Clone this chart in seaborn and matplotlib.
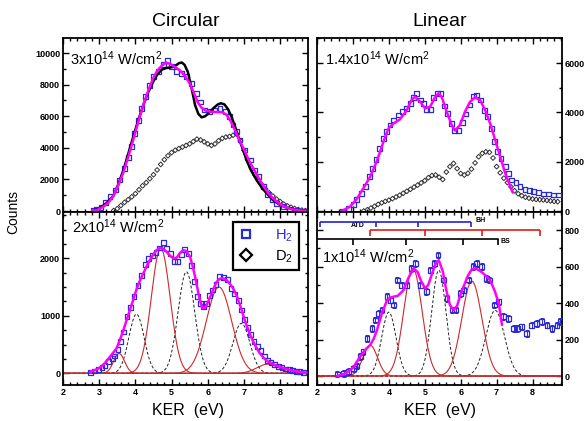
import numpy as np
import pandas as pd
import matplotlib
matplotlib.use("Agg")
import matplotlib.pyplot as plt
from matplotlib.lines import Line2D
from matplotlib.ticker import MultipleLocator
import seaborn as sns

# ---------------- data ----------------
# Circular, 3x10^14 W/cm^2
c3_h2_x = [2.84, 2.93, 3.05, 3.18, 3.30, 3.44, 3.57, 3.71, 3.80, 3.90, 3.98, 4.08, 4.18, 4.29, 4.40,
           4.51, 4.63, 4.77, 4.88, 5.00, 5.14, 5.28, 5.42, 5.56, 5.69, 5.80, 5.92, 6.06, 6.20, 6.34,
           6.48, 6.61, 6.70, 6.80, 6.89, 7.03, 7.17, 7.30, 7.40, 7.53, 7.65, 7.78, 7.90, 8.09, 8.27,
           8.46, 8.65]
c3_h2_y = [20, 100, 250, 550, 900, 1330, 1960, 2700, 3400, 4100, 4900, 5750, 6500, 7230, 7950,
           8500, 8850, 9250, 9550, 9150, 8850, 8700, 8500, 8080, 7450, 6900, 6400, 6280, 6400, 6500,
           6300, 5970, 5440, 5020, 4490, 3860, 3230, 2600, 2170, 1540, 1050, 700, 490, 270, 105,
           20, 0]
c3_fit_x = [2.80, 2.93, 3.10, 3.25, 3.39, 3.53, 3.67, 3.80, 3.94, 4.08, 4.22, 4.36, 4.49, 4.61, 4.73,
            4.85, 4.97, 5.10, 5.23, 5.37, 5.51, 5.62, 5.72, 5.82, 5.95, 6.10, 6.25, 6.40, 6.52, 6.63,
            6.75, 6.87, 7.00, 7.14, 7.28, 7.42, 7.56, 7.70, 7.85, 8.00, 8.15, 8.30, 8.50, 8.70]
c3_fit_y = [0, 60, 250, 520, 950, 1650, 2450, 3400, 4500, 5650, 6700, 7650, 8400, 8900, 9200,
            9400, 9300, 9100, 8900, 8550, 8050, 7450, 6900, 6550, 6350, 6280, 6270, 6250, 6100, 5700,
            5150, 4500, 3900, 3200, 2600, 2050, 1500, 1050, 700, 420, 250, 130, 50, 10]
c3_calc_x = [2.84, 3.00, 3.20, 3.39, 3.53, 3.67, 3.80, 3.94, 4.08, 4.22, 4.36, 4.49, 4.61, 4.73, 4.85,
             4.96, 5.08, 5.20, 5.28, 5.36, 5.45, 5.56, 5.65, 5.74, 5.83, 5.93, 6.05, 6.15, 6.28, 6.36,
             6.46, 6.56, 6.66, 6.76, 6.86, 6.97, 7.07, 7.20, 7.35, 7.50, 7.63, 7.80, 8.00, 8.20, 8.46,
             8.70]
c3_calc_y = [20, 150, 500, 950, 1700, 2600, 3600, 4700, 5750, 6710, 7550, 8180, 8650, 8950, 9050,
             9080, 9150, 9350, 9400, 9250, 8800, 7700, 6700, 6150, 5930, 6000, 6250, 6500, 6750, 6820,
             6750, 6450, 5950, 5300, 4600, 3900, 3230, 2550, 1960, 1450, 1120, 700, 380, 200, 60,
             10]
c3_d2_start, c3_d2_step = 3.4, 0.1
c3_d2_y = [30, 150, 350, 550, 720, 900, 1100, 1350, 1600, 1800,
           2050, 2300, 2600, 2950, 3250, 3500, 3700, 3850, 3950, 4050,
           4150, 4250, 4400, 4550, 4500, 4380, 4250, 4150, 4250, 4450,
           4600, 4680, 4720, 4800, 4850, 4450, 3850, 3250, 2750, 2300,
           1960, 1650, 1380, 1150, 950, 760, 600, 440, 330, 240,
           160, 100, 60, 30]

# Linear, 1.4x10^14 W/cm^2
l14_h2_x = [2.71, 2.87, 3.01, 3.10, 3.24, 3.34, 3.46, 3.55, 3.64, 3.75, 3.85, 3.94, 4.03, 4.14, 4.27,
            4.39, 4.50, 4.61, 4.68, 4.76, 4.87, 4.96, 5.04, 5.15, 5.24, 5.36, 5.44, 5.54, 5.63, 5.75,
            5.83, 5.94, 6.06, 6.15, 6.26, 6.35, 6.45, 6.56, 6.66, 6.74, 6.85, 6.93, 7.02, 7.12, 7.24,
            7.33, 7.42, 7.54, 7.65, 7.79, 7.91, 8.03, 8.17, 8.30, 8.44, 8.58, 8.72]
l14_h2_y = [0, 110, 280, 470, 715, 1010, 1390, 1730, 2090, 2540, 2950, 3215, 3485, 3690, 3890,
            4050, 4160, 4360, 4610, 4770, 4500, 4360, 4120, 4120, 4610, 4770, 4770, 4260, 3960, 3550,
            3260, 3260, 3580, 3930, 4300, 4660, 4700, 4500, 4090, 3820, 3350, 2810, 2400, 2130, 1800,
            1530, 1260, 1150, 990, 880, 820, 780, 740, 690, 690, 650, 650]
l14_fit_x = [2.69, 2.92, 3.10, 3.29, 3.48, 3.66, 3.85, 3.99, 4.13, 4.31, 4.50, 4.64, 4.73, 4.87, 5.01,
             5.15, 5.29, 5.38, 5.47, 5.61, 5.75, 5.84, 5.98, 6.12, 6.26, 6.40, 6.54, 6.68, 6.82, 6.96,
             7.10, 7.24, 7.38, 7.45]
l14_fit_y = [0, 175, 470, 920, 1390, 2000, 2810, 3350, 3550, 3715, 4090, 4525, 4630, 4430, 4160,
             4230, 4630, 4770, 4630, 4030, 3485, 3260, 3485, 4030, 4430, 4610, 4500, 4090, 3550, 2880,
             2200, 1530, 990, 745]
l14_d2_start, l14_d2_step = 3.3, 0.1
l14_d2_y = [0, 50, 120, 190, 270, 330, 390, 440, 500, 570,
            640, 720, 800, 880, 970, 1050, 1140, 1230, 1350, 1440,
            1460, 1370, 1280, 1580, 1800, 1930, 1720, 1520, 1460, 1530,
            1700, 1950, 2200, 2340, 2400, 2380, 2150, 1800, 1550, 1330,
            1150, 980, 820, 700, 620, 560, 520, 490, 470, 460,
            450, 430, 410, 390, 380]

# Circular, 2x10^14 W/cm^2
c2_h2_x = [2.76, 2.86, 2.98, 3.08, 3.16, 3.26, 3.36, 3.43, 3.52, 3.60, 3.68, 3.77, 3.87, 3.96, 4.07,
           4.17, 4.27, 4.36, 4.47, 4.57, 4.66, 4.77, 4.86, 4.97, 5.07, 5.17, 5.27, 5.36, 5.46, 5.55,
           5.64, 5.71, 5.79, 5.88, 5.97, 6.05, 6.14, 6.23, 6.33, 6.44, 6.55, 6.64, 6.74, 6.84, 6.93,
           7.02, 7.11, 7.19, 7.28, 7.37, 7.47, 7.56, 7.66, 7.75, 7.85, 7.95, 8.05, 8.15, 8.25, 8.35,
           8.45, 8.55, 8.65]
c2_h2_y = [15, 40, 70, 100, 135, 200, 260, 300, 420, 560, 720, 990, 1150, 1340, 1530,
           1700, 1890, 2000, 2050, 2100, 2180, 2280, 2170, 2090, 1950, 1940, 2060, 2150, 2080, 1880,
           1600, 1330, 1210, 1160, 1210, 1360, 1450, 1540, 1690, 1660, 1630, 1470, 1380, 1270, 1100,
           940, 800, 680, 560, 470, 390, 300, 225, 185, 150, 120, 95, 75, 60, 45,
           35, 25, 15]
c2_fit_x = [2.75, 2.90, 3.02, 3.16, 3.30, 3.40, 3.48, 3.58, 3.67, 3.76, 3.85, 3.95, 4.04, 4.13, 4.22,
            4.31, 4.40, 4.50, 4.59, 4.68, 4.77, 4.86, 4.95, 5.05, 5.14, 5.23, 5.32, 5.40, 5.51, 5.58,
            5.65, 5.72, 5.78, 5.86, 5.92, 5.97, 6.04, 6.11, 6.18, 6.25, 6.32, 6.38, 6.45, 6.52, 6.61,
            6.70, 6.80, 6.89, 6.98, 7.07, 7.16, 7.26, 7.35, 7.44, 7.55, 7.67, 7.83, 7.99, 8.17, 8.36,
            8.55, 8.73]
c2_fit_y = [28, 60, 98, 180, 290, 370, 434, 590, 753, 930, 1100, 1300, 1478, 1620, 1739,
            1860, 1970, 2070, 2144, 2180, 2160, 2115, 2050, 2000, 2010, 2090, 2140, 2130, 2028, 1870,
            1680, 1460, 1275, 1130, 1140, 1188, 1290, 1391, 1500, 1593, 1640, 1652, 1645, 1622, 1560,
            1478, 1350, 1188, 1010, 840, 690, 550, 440, 348, 265, 202, 150, 115, 75, 45,
            25, 10]
# Gaussian components (centre eV, height counts, width eV)
c2_red_centre = [3.55, 4.70, 6.31, 7.66]
c2_red_height = [345, 2175, 1500, 160]
c2_red_width = [0.15, 0.26, 0.35, 0.30]
c2_blk_centre = [4.03, 5.41, 6.93]
c2_blk_height = [1030, 1765, 870]
c2_blk_width = [0.21, 0.23, 0.235]

# Linear, 1x10^14 W/cm^2
l1_h2_x = [2.56, 2.74, 2.88, 3.02, 3.11, 3.20, 3.28, 3.39, 3.53, 3.62, 3.72, 3.81, 3.95, 4.04, 4.13,
           4.24, 4.36, 4.50, 4.62, 4.74, 4.88, 5.04, 5.15, 5.27, 5.37, 5.53, 5.62, 5.76, 5.87, 5.99,
           6.08, 6.22, 6.34, 6.45, 6.59, 6.71, 6.80, 6.94, 7.06, 7.19, 7.33, 7.47, 7.57, 7.70, 7.84,
           7.98, 8.12, 8.26, 8.40, 8.54, 8.68, 8.77]
l1_h2_y = [11, 15, 24, 42, 55, 106, 133, 206, 261, 307, 343, 362, 435, 416, 389,
           526, 498, 498, 590, 617, 498, 462, 580, 617, 663, 526, 425, 362, 362, 453,
           471, 526, 599, 617, 599, 535, 526, 389, 407, 325, 316, 261, 261, 270, 234,
           279, 288, 298, 279, 261, 279, 298]
l1_h2_err = 18
l1_fit_x = [2.56, 2.80, 3.00, 3.20, 3.35, 3.48, 3.58, 3.67, 3.80, 3.95, 4.05, 4.13, 4.25, 4.41, 4.55,
            4.69, 4.80, 4.90, 5.01, 5.10, 5.20, 5.30, 5.39, 5.50, 5.60, 5.70, 5.80, 5.90, 6.00, 6.08,
            6.20, 6.31, 6.41, 6.55, 6.70, 6.82, 6.95, 7.06, 7.15]
l1_fit_y = [0, 15, 45, 106, 145, 170, 205, 252, 340, 416, 430, 435, 440, 471, 540,
            590, 570, 520, 480, 500, 560, 615, 635, 575, 470, 390, 362, 385, 450, 490,
            550, 585, 590, 575, 550, 526, 465, 398, 280]
l1_red_centre = [3.48, 4.67, 6.31]
l1_red_height = [170, 590, 520]
l1_red_width = [0.20, 0.255, 0.28]
l1_blk_centre = [4.00, 5.39, 6.96]
l1_blk_height = [350, 580, 360]
l1_blk_width = [0.20, 0.20, 0.26]

# photon-number combs (eV)
bh_comb = [2.07, 3.65, 4.80, 6.30]
atd_comb = [3.48, 5.00, 6.60, 8.21]
bs_comb = [2.00, 3.00, 4.48, 6.07, 7.04]

titles = ["Circular", "Linear"]
panel_labels = ["3x10$^{14}$ W/cm$^{2}$", "1.4x10$^{14}$ W/cm$^{2}$",
                "2x10$^{14}$ W/cm$^{2}$", "1x10$^{14}$ W/cm$^{2}$"]
legend_labels = ["H$_2$", "D$_2$"]

# ---------------- style ----------------
sns.set_theme(style="ticks")
plt.rcParams["font.family"] = ["Liberation Sans", "DejaVu Sans"]
plt.rcParams["mathtext.fontset"] = "custom"
plt.rcParams["mathtext.rm"] = "Liberation Sans"
plt.rcParams["mathtext.it"] = "Liberation Sans:italic"
plt.rcParams["mathtext.bf"] = "Liberation Sans:bold"
plt.rcParams["axes.linewidth"] = 1.3
for key in ("text.color", "axes.labelcolor", "xtick.color", "ytick.color", "axes.edgecolor"):
    plt.rcParams[key] = "black"

BLUE = "#2b2bd6"
MAG = "#ff00ff"
RED = "#cc2a2a"

fig = plt.figure(figsize=(5.88, 4.21), dpi=100)
W = 245 / 588
ax_tl = fig.add_axes([63 / 588, 1 - 212 / 421, W, 174 / 421])
ax_tr = fig.add_axes([317 / 588, 1 - 212 / 421, W, 174 / 421])
ax_bl = fig.add_axes([63 / 588, 1 - 385 / 421, W, 173 / 421])
ax_br = fig.add_axes([317 / 588, 1 - 385 / 421, W, 173 / 421])


def squares(ax, x, y):
    ax.scatter(x, y, marker="s", s=12, facecolors="none", edgecolors=BLUE, linewidths=0.9, zorder=3)


def diamonds(ax, x, y):
    ax.scatter(x, y, marker="D", s=6, facecolors="none", edgecolors="#303030", linewidths=0.7, zorder=3)


def line(ax, x, y, color, lw, z=4):
    sns.lineplot(x=x, y=y, ax=ax, color=color, lw=lw, sort=False, estimator=None, zorder=z)


def components(ax, centres, heights, widths, color, ls, lw, xmax):
    grid = np.linspace(2.0, xmax, 500)
    frames = []
    for i, (c, h, w) in enumerate(zip(centres, heights, widths)):
        frames.append(pd.DataFrame({"x": grid, "y": h * np.exp(-(grid - c) ** 2 / (2 * w * w)), "k": i}))
    df = pd.concat(frames)
    sns.lineplot(data=df, x="x", y="y", units="k", estimator=None, ax=ax, color=color,
                 lw=lw, ls=ls, sort=False, zorder=2)


# top-left
diamonds(ax_tl, np.round(c3_d2_start + c3_d2_step * np.arange(len(c3_d2_y)), 2), c3_d2_y)
line(ax_tl, c3_calc_x, c3_calc_y, "black", 1.8)
squares(ax_tl, c3_h2_x, c3_h2_y)
line(ax_tl, c3_fit_x, c3_fit_y, MAG, 1.8, z=5)

# top-right
diamonds(ax_tr, np.round(l14_d2_start + l14_d2_step * np.arange(len(l14_d2_y)), 2), l14_d2_y)
squares(ax_tr, l14_h2_x, l14_h2_y)
line(ax_tr, l14_fit_x, l14_fit_y, MAG, 1.8, z=5)

# bottom-left
components(ax_bl, c2_blk_centre, c2_blk_height, c2_blk_width, "#222222", (0, (3, 2)), 0.7, 8.77)
components(ax_bl, c2_red_centre, c2_red_height, c2_red_width, RED, "-", 0.8, 8.77)
squares(ax_bl, c2_h2_x, c2_h2_y)
line(ax_bl, c2_fit_x, c2_fit_y, MAG, 1.8, z=5)

# bottom-right
components(ax_br, l1_blk_centre, l1_blk_height, l1_blk_width, "#222222", (0, (3, 2)), 0.7, 8.82)
components(ax_br, l1_red_centre, l1_red_height, l1_red_width, RED, "-", 0.8, 8.82)
ax_br.errorbar(l1_h2_x, l1_h2_y, yerr=l1_h2_err, fmt="none", ecolor=BLUE, elinewidth=0.7,
               capsize=1.5, capthick=0.7, zorder=3)
squares(ax_br, l1_h2_x, l1_h2_y)
line(ax_br, l1_fit_x, l1_fit_y, MAG, 1.8, z=5)


def comb(ax, xs, level, color, tick, lw=1.2):
    ax.plot([xs[0], xs[-1]], [level, level], color=color, lw=lw, solid_capstyle="butt", zorder=6)
    ax.vlines(xs, level - tick, level, color=color, lw=lw, zorder=6)


comb(ax_br, bh_comb, 845, "#2323cc", 30)
comb(ax_br, atd_comb, 800, "#e01b1b", 30)
ax_br.plot([bs_comb[0], bs_comb[-1]], [750, 750], color="black", lw=1.2, zorder=6)
ax_br.vlines(bs_comb[1:], 718, 750, color="black", lw=1.2, zorder=6)
ax_br.text(6.40, 850, "BH", fontsize=5, fontweight="bold", va="center", ha="left")
ax_br.text(3.32, 826, "ATD", fontsize=5, fontweight="bold", va="center", ha="right")
ax_br.text(7.12, 740, "BS", fontsize=5, fontweight="bold", va="center", ha="left")

# axes formatting
limits = {ax_tl: ((2, 8.77), (-60, 10950), 2000, 1000),
          ax_tr: ((2, 8.82), (-40, 7014), 2000, 1000),
          ax_bl: ((2, 8.77), (-203, 2805), 1000, 250),
          ax_br: ((2, 8.82), (-49, 899), 200, 100)}
for ax, (xl, yl, ymaj, ymin) in limits.items():
    ax.set_xlim(*xl)
    ax.set_ylim(*yl)
    ax.xaxis.set_major_locator(MultipleLocator(1))
    ax.xaxis.set_minor_locator(MultipleLocator(0.2))
    ax.yaxis.set_major_locator(MultipleLocator(ymaj))
    ax.yaxis.set_minor_locator(MultipleLocator(ymin))
    ax.tick_params(which="both", direction="in", top=True, right=True, left=True, bottom=True,
                   width=1.0, labelsize=6.5, pad=2, colors="black")
    ax.tick_params(which="major", length=4)
    ax.tick_params(which="minor", length=2)
    ax.set_xlabel("")
    ax.set_ylabel("")
    for s in ax.spines.values():
        s.set_linewidth(1.3)
        s.set_color("black")

for ax in (ax_tl, ax_tr):
    ax.tick_params(labelbottom=False)
for ax in (ax_tr, ax_br):
    ax.tick_params(labelleft=False, labelright=True)
for ax in (ax_tl, ax_tr, ax_bl, ax_br):
    for lab in ax.get_xticklabels() + ax.get_yticklabels():
        lab.set_fontweight("bold")

ax_tl.text(0.03, 0.88, panel_labels[0], transform=ax_tl.transAxes, fontsize=10.5, va="center")
ax_tr.text(0.033, 0.88, panel_labels[1], transform=ax_tr.transAxes, fontsize=10.5, va="center")
ax_bl.text(0.037, 0.915, panel_labels[2], transform=ax_bl.transAxes, fontsize=10.5, va="center")
ax_br.text(0.02, 0.74, panel_labels[3], transform=ax_br.transAxes, fontsize=10.5, va="center")

handles = [Line2D([], [], ls="none", marker="s", ms=6, mfc="none", mec=BLUE, mew=1.6),
           Line2D([], [], ls="none", marker="D", ms=6, mfc="none", mec="black", mew=1.6)]
leg = ax_bl.legend(handles, legend_labels, loc="upper right", bbox_to_anchor=(0.962, 0.945),
                   fontsize=10.5, frameon=True, fancybox=False, handlelength=1.0,
                   handletextpad=1.5, borderpad=0.4, labelspacing=0.3, borderaxespad=0.0)
leg.get_frame().set_edgecolor("black")
leg.get_frame().set_linewidth(1.6)
leg.get_frame().set_alpha(1)
leg.get_texts()[0].set_color(BLUE)

fig.text(186 / 588, 1 - 22 / 421, titles[0], fontsize=14, ha="center", va="center")
fig.text(440 / 588, 1 - 22 / 421, titles[1], fontsize=14, ha="center", va="center")
fig.text(13 / 588, 1 - 212 / 421, "Counts", fontsize=10, rotation=90, ha="center", va="center")
fig.text(188 / 588, 1 - 410 / 421, "KER  (eV)", fontsize=11.5, ha="center", va="center")
fig.text(440 / 588, 1 - 410 / 421, "KER  (eV)", fontsize=11.5, ha="center", va="center")

fig.savefig("out.png", dpi=100)
